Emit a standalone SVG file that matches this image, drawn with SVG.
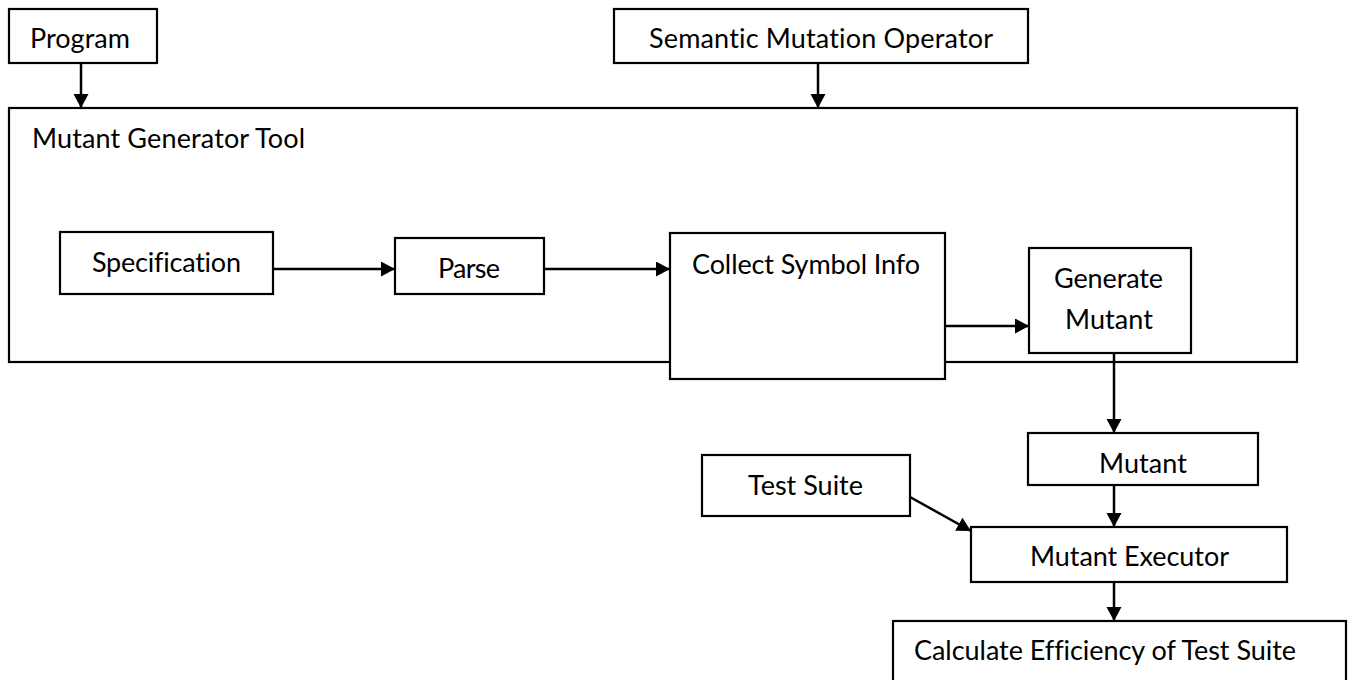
<svg xmlns="http://www.w3.org/2000/svg" width="1352" height="680" viewBox="0 0 1352 680">
<style>
.box{fill:#fff;stroke:#000;stroke-width:2.2}
.t{font-family:Lato,"Liberation Sans",sans-serif;font-size:27px;fill:#000;font-variant-ligatures:none;font-feature-settings:"liga" 0}
.m{text-anchor:middle}
.c{stroke:#000;stroke-width:2.5;fill:none;marker-end:url(#ah)}
</style>
<defs>
<marker id="ah" markerUnits="userSpaceOnUse" markerWidth="15" markerHeight="16" refX="14" refY="7.5" orient="auto">
<path d="M0,0 L14,7.5 L0,15 z" fill="#000"/>
</marker>
</defs>
<rect width="1352" height="680" fill="#fff"/>
<g id="program"><rect class="box" x="9" y="9" width="148" height="54"/><text class="t m" x="80" y="48" textLength="100">Program</text></g>
<g id="semantic"><rect class="box" x="614" y="9" width="414" height="54"/><text class="t m" x="821" y="48" textLength="344">Semantic Mutation Operator</text></g>
<g id="mutant-generator-tool"><rect class="box" x="9" y="108" width="1288" height="254"/><text class="t" x="32" y="148" textLength="273">Mutant Generator Tool</text></g>
<g id="specification"><rect class="box" x="60" y="232" width="213" height="62"/><text class="t m" x="166.5" y="272" textLength="149">Specification</text></g>
<g id="parse"><rect class="box" x="395" y="238" width="149" height="56"/><text class="t m" x="469" y="278" textLength="62">Parse</text></g>
<g id="collect"><rect class="box" x="670" y="233" width="275" height="146"/><text class="t m" x="806" y="274" textLength="228">Collect Symbol Info</text></g>
<g id="generate"><rect class="box" x="1029" y="248" width="162" height="105"/><text class="t m" x="1108.5" y="288" textLength="109">Generate</text><text class="t m" x="1109" y="329" textLength="88">Mutant</text></g>
<g id="mutant"><rect class="box" x="1028" y="433" width="230" height="52"/><text class="t m" x="1143" y="473" textLength="88">Mutant</text></g>
<g id="test-suite"><rect class="box" x="702" y="455" width="208" height="61"/><text class="t m" x="805.5" y="495" textLength="115">Test Suite</text></g>
<g id="executor"><rect class="box" x="971" y="527" width="316" height="55"/><text class="t m" x="1129.5" y="566" textLength="199">Mutant Executor</text></g>
<g id="calculate"><rect class="box" x="893" y="621" width="453" height="70"/><text class="t" x="914" y="660" textLength="382">Calculate Efficiency of Test Suite</text></g>
<g id="connectors">
<line class="c" x1="81" y1="63" x2="81" y2="108"/>
<line class="c" x1="818" y1="63" x2="818" y2="108"/>
<line class="c" x1="273" y1="269" x2="395" y2="269"/>
<line class="c" x1="544" y1="269" x2="670" y2="269"/>
<line class="c" x1="945" y1="326" x2="1029" y2="326"/>
<line class="c" x1="1114" y1="353" x2="1114" y2="433"/>
<line class="c" x1="1114" y1="485" x2="1114" y2="527"/>
<line class="c" x1="910" y1="497" x2="971" y2="531"/>
<line class="c" x1="1114" y1="582" x2="1114" y2="621"/>
</g>
</svg>
